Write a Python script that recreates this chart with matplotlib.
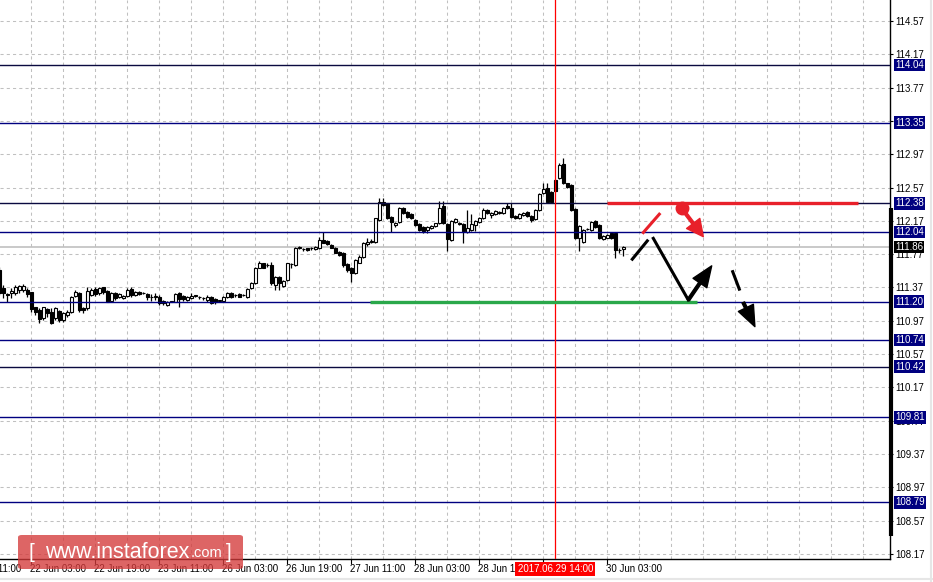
import matplotlib
matplotlib.use("Agg")
import numpy as np
from matplotlib import pyplot as plt
from matplotlib.patches import FancyBboxPatch
from matplotlib.lines import Line2D

# H1 candles, index 0 = 21 Jun 19:00
opens = [111.58, 111.36, 111.29, 111.30, 111.30, 111.34, 111.34, 111.34, 111.31, 111.13,
         111.10, 111.00, 111.11, 111.07, 111.00, 111.09, 110.98, 111.04, 111.08, 111.27,
         111.30, 111.12, 111.12, 111.28, 111.35, 111.30, 111.37, 111.33, 111.21, 111.30,
         111.25, 111.24, 111.27, 111.35, 111.28, 111.32, 111.30, 111.29, 111.25, 111.26,
         111.25, 111.21, 111.16, 111.20, 111.20, 111.30, 111.27, 111.22, 111.24, 111.27,
         111.25, 111.24, 111.22, 111.25, 111.23, 111.21, 111.21, 111.25, 111.30, 111.28,
         111.29, 111.28, 111.25, 111.36, 111.42, 111.61, 111.66, 111.64, 111.64, 111.40,
         111.50, 111.39, 111.46, 111.65, 111.64, 111.85, 111.83, 111.84, 111.84, 111.83,
         111.84, 111.94, 111.93, 111.88, 111.85, 111.80, 111.78, 111.65, 111.61, 111.55,
         111.67, 111.74, 111.89, 111.92, 111.92, 112.18, 112.40, 112.38, 112.22, 112.12,
         112.16, 112.33, 112.28, 112.25, 112.18, 112.13, 112.10, 112.06, 112.08, 112.11,
         112.14, 112.35, 112.13, 111.94, 112.16, 112.15, 112.13, 112.04, 112.06, 112.12,
         112.16, 112.20, 112.30, 112.24, 112.25, 112.26, 112.26, 112.35, 112.33, 112.23,
         112.20, 112.24, 112.28, 112.23, 112.19, 112.30, 112.50, 112.56, 112.52, 112.66,
         112.68, 112.85, 112.62, 112.60, 112.31, 111.96, 111.92, 112.07, 112.06, 112.17,
         112.12, 111.95, 111.97, 112.02, 112.02, 111.82, 111.83]
highs = [111.62, 111.40, 111.30, 111.36, 111.40, 111.40, 111.41, 111.36, 111.32, 111.14,
         111.12, 111.14, 111.12, 111.12, 111.13, 111.10, 111.07, 111.10, 111.27, 111.34,
         111.31, 111.14, 111.38, 111.36, 111.37, 111.38, 111.38, 111.34, 111.31, 111.31,
         111.30, 111.28, 111.36, 111.37, 111.33, 111.33, 111.31, 111.30, 111.29, 111.30,
         111.28, 111.22, 111.21, 111.21, 111.30, 111.31, 111.28, 111.27, 111.30, 111.28,
         111.27, 111.26, 111.28, 111.27, 111.24, 111.22, 111.27, 111.31, 111.31, 111.29,
         111.30, 111.29, 111.36, 111.44, 111.62, 111.69, 111.67, 111.66, 111.68, 111.51,
         111.51, 111.46, 111.67, 111.67, 111.86, 111.87, 111.85, 111.85, 111.86, 111.87,
         111.98, 112.04, 111.94, 111.89, 111.86, 111.81, 111.80, 111.66, 111.62, 111.71,
         111.76, 111.92, 111.96, 111.95, 112.21, 112.45, 112.45, 112.39, 112.23, 112.16,
         112.34, 112.34, 112.29, 112.26, 112.19, 112.14, 112.11, 112.11, 112.12, 112.15,
         112.41, 112.41, 112.14, 112.18, 112.21, 112.16, 112.14, 112.30, 112.25, 112.18,
         112.22, 112.32, 112.31, 112.28, 112.30, 112.29, 112.34, 112.38, 112.38, 112.24,
         112.26, 112.28, 112.29, 112.24, 112.31, 112.50, 112.62, 112.62, 112.53, 112.67,
         112.87, 112.92, 112.63, 112.61, 112.32, 112.12, 112.07, 112.08, 112.17, 112.18,
         112.13, 112.00, 112.01, 112.03, 112.03, 111.84, 111.87]
lows = [111.28, 111.24, 111.20, 111.24, 111.28, 111.30, 111.32, 111.26, 111.08, 111.04,
        110.94, 110.98, 111.02, 110.93, 110.98, 110.96, 110.96, 111.02, 111.06, 111.25,
        111.08, 111.06, 111.10, 111.27, 111.27, 111.28, 111.29, 111.19, 111.20, 111.22,
        111.24, 111.23, 111.26, 111.26, 111.27, 111.28, 111.29, 111.22, 111.21, 111.22,
        111.16, 111.16, 111.15, 111.19, 111.19, 111.14, 111.21, 111.21, 111.23, 111.25,
        111.23, 111.22, 111.20, 111.17, 111.17, 111.19, 111.20, 111.24, 111.24, 111.26,
        111.25, 111.27, 111.24, 111.35, 111.41, 111.60, 111.60, 111.62, 111.40, 111.34,
        111.34, 111.38, 111.45, 111.60, 111.63, 111.83, 111.81, 111.81, 111.82, 111.82,
        111.83, 111.90, 111.88, 111.84, 111.78, 111.75, 111.62, 111.56, 111.43, 111.53,
        111.66, 111.72, 111.87, 111.91, 111.90, 112.17, 112.35, 112.19, 112.04, 112.10,
        112.15, 112.25, 112.21, 112.19, 112.11, 112.05, 112.03, 112.03, 112.07, 112.10,
        112.13, 112.13, 111.81, 111.93, 112.15, 112.12, 111.91, 112.03, 112.05, 112.05,
        112.14, 112.19, 112.25, 112.20, 112.24, 112.25, 112.25, 112.31, 112.21, 112.19,
        112.19, 112.23, 112.22, 112.16, 112.18, 112.29, 112.49, 112.39, 112.39, 112.52,
        112.67, 112.61, 112.57, 112.29, 111.95, 111.81, 111.90, 112.06, 112.05, 112.09,
        111.95, 111.94, 111.96, 111.95, 111.73, 111.78, 111.75]
closes = [111.30, 111.30, 111.28, 111.33, 111.37, 111.39, 111.39, 111.29, 111.11, 111.08,
          110.99, 111.13, 111.06, 110.94, 111.12, 110.98, 111.06, 111.08, 111.26, 111.31,
          111.10, 111.10, 111.33, 111.34, 111.29, 111.36, 111.31, 111.20, 111.30, 111.24,
          111.29, 111.27, 111.34, 111.28, 111.32, 111.29, 111.30, 111.25, 111.25, 111.27,
          111.18, 111.18, 111.20, 111.20, 111.29, 111.23, 111.23, 111.26, 111.27, 111.27,
          111.25, 111.24, 111.26, 111.18, 111.19, 111.21, 111.26, 111.30, 111.25, 111.28,
          111.26, 111.28, 111.35, 111.42, 111.60, 111.66, 111.61, 111.64, 111.42, 111.50,
          111.42, 111.45, 111.66, 111.65, 111.85, 111.85, 111.83, 111.82, 111.84, 111.86,
          111.94, 111.91, 111.89, 111.85, 111.79, 111.76, 111.64, 111.58, 111.54, 111.70,
          111.74, 111.91, 111.92, 111.92, 112.20, 112.40, 112.36, 112.20, 112.16, 112.15,
          112.33, 112.26, 112.22, 112.20, 112.12, 112.06, 112.05, 112.10, 112.11, 112.14,
          112.33, 112.14, 111.95, 112.17, 112.19, 112.13, 112.05, 112.09, 112.13, 112.17,
          112.21, 112.30, 112.26, 112.27, 112.29, 112.28, 112.32, 112.32, 112.22, 112.20,
          112.25, 112.27, 112.23, 112.18, 112.30, 112.49, 112.55, 112.40, 112.40, 112.53,
          112.84, 112.62, 112.58, 112.30, 111.96, 112.11, 112.06, 112.07, 112.16, 112.10,
          111.96, 111.99, 112.00, 111.96, 111.82, 111.82, 111.86]

# horizontal levels drawn on the chart
levels = [114.04, 113.35, 112.38, 112.04, 111.20, 110.74, 110.42, 109.81, 108.79]
level_colors = ["#0a0a40", "#000080", "#0a0a40", "#000080", "#000080",
                "#000080", "#0a0a40", "#000080", "#000080"]
last_price = 111.86

# price axis
y_ticks = [108.17, 108.57, 108.97, 109.37, 109.77, 110.17, 110.57, 110.97, 111.37,
           111.77, 112.17, 112.57, 112.97, 113.37, 113.77, 114.17, 114.57]

# time axis (candle index); 29 Jun 11:00 sits under the cursor label
x_tick_pos = [8, 24, 40, 56, 72, 88, 104, 120, 136, 152]
x_label_pos = [-8, 8, 24, 40, 56, 72, 88, 104, 120, 152]
x_labels = ["21 Jun 11:00", "22 Jun 03:00", "22 Jun 19:00", "23 Jun 11:00",
            "26 Jun 03:00", "26 Jun 19:00", "27 Jun 11:00", "28 Jun 03:00",
            "28 Jun 19:00", "30 Jun 03:00"]
cursor_pos = 139
cursor_label = "2017.06.29 14:00"

# forecast drawings (candle index, price)
red_level = ([151.9, 214.7], [112.38, 112.38])
green_level = ([92.7, 174.4], [111.20, 111.20])
red_stroke = ([161.0, 165.0], [112.03, 112.25])
red_dot = (170.6, 112.32)
red_arrow_end = (176.0, 111.98)
black_path = ([163.5, 172.25], [111.96, 111.22])
black_stroke = ([158.25, 162.0], [111.71, 111.93])
black_arrow_end = (178.1, 111.63)
dash_stroke = ([183.35, 185.0], [111.56, 111.35])
dash_arrow = ((186.0, 111.19), (188.9, 110.90))
scale_bar = [108.39, 112.33]

W, H = 933, 582
fig = plt.figure(figsize=(W / 100, H / 100), dpi=100)
fig.patch.set_facecolor("white")
ax = fig.add_axes([0, (H - 559) / H, 890 / W, 559 / H])

x_min, x_max = 0.175, 222.675
y_min, y_max = 108.11, 114.822
ax.set_xlim(x_min, x_max)
ax.set_ylim(y_min, y_max)

grid_kw = dict(color="#c0c0c0", lw=0.75, linestyle=(0, (3, 3)), zorder=0)
for yt in y_ticks:
    ax.axhline(yt, **grid_kw)
for xg in np.arange(8, 222, 8):
    ax.axvline(xg, **grid_kw)

ax.axhline(last_price, color="#c0c0c0", lw=1.2, zorder=1)

# candles
x = np.arange(len(closes))
o = np.array(opens)
c = np.array(closes)
ax.vlines(x, lows, highs, color="black", lw=0.9, zorder=2)
bull = c >= o
body_lo = np.minimum(o, c)
body_h = np.maximum(np.abs(c - o), 0.004)
ax.bar(x[bull], body_h[bull], bottom=body_lo[bull], width=0.7,
       facecolor="white", edgecolor="black", lw=0.8, zorder=3)
ax.bar(x[~bull], body_h[~bull], bottom=body_lo[~bull], width=0.7,
       facecolor="black", edgecolor="black", lw=0.8, zorder=3)

for lv, col in zip(levels, level_colors):
    ax.axhline(lv, color=col, lw=1.0, zorder=4)

ax.axvline(cursor_pos, color="#ff0000", lw=0.9, zorder=4)

# drawings
ax.plot(*red_level, color="#e8202a", lw=2.4, solid_capstyle="butt", zorder=5)
ax.plot(*green_level, color="#2aa84a", lw=2.4, solid_capstyle="butt", zorder=5)
ax.plot(*red_stroke, color="#e8202a", lw=2.2, zorder=5)
ax.plot(*red_dot, "o", color="#e8202a", ms=9, zorder=6)
ax.annotate("", xy=red_arrow_end, xytext=red_dot,
            arrowprops=dict(facecolor="#e8202a", edgecolor="#e8202a", width=2.0,
                            headwidth=12, headlength=12, shrink=0), zorder=6)
ax.plot(*black_stroke, color="black", lw=2.2, zorder=5)
ax.plot(*black_path, color="black", lw=2.2, zorder=5)
ax.annotate("", xy=black_arrow_end, xytext=(black_path[0][1], black_path[1][1]),
            arrowprops=dict(facecolor="black", edgecolor="black", width=2.0,
                            headwidth=12, headlength=15, shrink=0), zorder=6)
ax.plot(*dash_stroke, color="black", lw=2.2, zorder=5)
ax.annotate("", xy=dash_arrow[1], xytext=dash_arrow[0],
            arrowprops=dict(facecolor="black", edgecolor="black", width=2.0,
                            headwidth=12, headlength=15, shrink=0), zorder=6)

# scale bar on the price axis
ax.plot([x_max + 0.25, x_max + 0.25], scale_bar, color="black", lw=3,
        solid_capstyle="butt", clip_on=False, zorder=7)

# axes styling
for s in ["left", "top"]:
    ax.spines[s].set_visible(False)
for s in ["right", "bottom"]:
    ax.spines[s].set_linewidth(1.0)
    ax.spines[s].set_color("black")

ax.yaxis.tick_right()
ax.set_yticks(y_ticks)
ax.set_yticklabels(["%.2f" % v for v in y_ticks])
ax.tick_params(axis="y", length=2.5, width=0.8, pad=1.5, labelsize=7,
               labelfontfamily="Liberation Sans")

ax.set_xticks(x_tick_pos)
ax.set_xticklabels([])
ax.tick_params(axis="x", length=3.5, width=0.8, direction="out")

xtr = ax.get_xaxis_transform()
for p, lab in zip(x_label_pos, x_labels):
    ax.text(p - 0.2, -0.018, lab, transform=xtr, ha="left", va="center",
            fontsize=7, family="Liberation Sans", clip_on=False)
ax.text(cursor_pos, -0.018, cursor_label, transform=xtr, ha="center", va="center",
        fontsize=7, family="Liberation Sans", color="white", clip_on=False, zorder=10,
        bbox=dict(boxstyle="square,pad=0.25", facecolor="#ff0000", edgecolor="none"))

ytr = ax.get_yaxis_transform()
for lv in levels:
    ax.text(1.0056, lv, "%.2f" % lv, transform=ytr, ha="left", va="center",
            fontsize=7, family="Liberation Sans", color="white", clip_on=False, zorder=10,
            bbox=dict(boxstyle="square,pad=0.12", facecolor="#000080", edgecolor="none"))
ax.text(1.0056, last_price, "%.2f" % last_price, transform=ytr, ha="left", va="center",
        fontsize=7, family="Liberation Sans", color="white", clip_on=False, zorder=10,
        bbox=dict(boxstyle="square,pad=0.12", facecolor="black", edgecolor="none"))

# window frame lines
fig.add_artist(Line2D([0, 1], [3 / H, 3 / H], color="#e6e6e6", lw=1.5))
fig.add_artist(Line2D([931 / W, 931 / W], [0, 1], color="#e6e6e6", lw=1.5))

# logo
logo = FancyBboxPatch((18 / W, (H - 569) / H), 225 / W, 34 / H,
                      boxstyle="round,pad=0,rounding_size=0.004",
                      transform=fig.transFigure, facecolor="#d43a3a",
                      edgecolor="none", alpha=0.78, zorder=20)
fig.add_artist(logo)
ly = (H - 552) / H
fig.text(28 / W, ly, "[", color="white", fontsize=15, family="Liberation Sans",
         va="center", zorder=21)
fig.text(45 / W, ly, "www.instaforex", color="white", fontsize=15.5,
         family="Liberation Sans", va="center", zorder=21)
fig.text(191 / W, ly - 0.002, ".com", color="white", fontsize=10.5,
         family="Liberation Sans", va="center", zorder=21)
fig.text(226 / W, ly, "]", color="white", fontsize=15, family="Liberation Sans",
         va="center", zorder=21)

fig.savefig("out.png", dpi=100, facecolor="white")
